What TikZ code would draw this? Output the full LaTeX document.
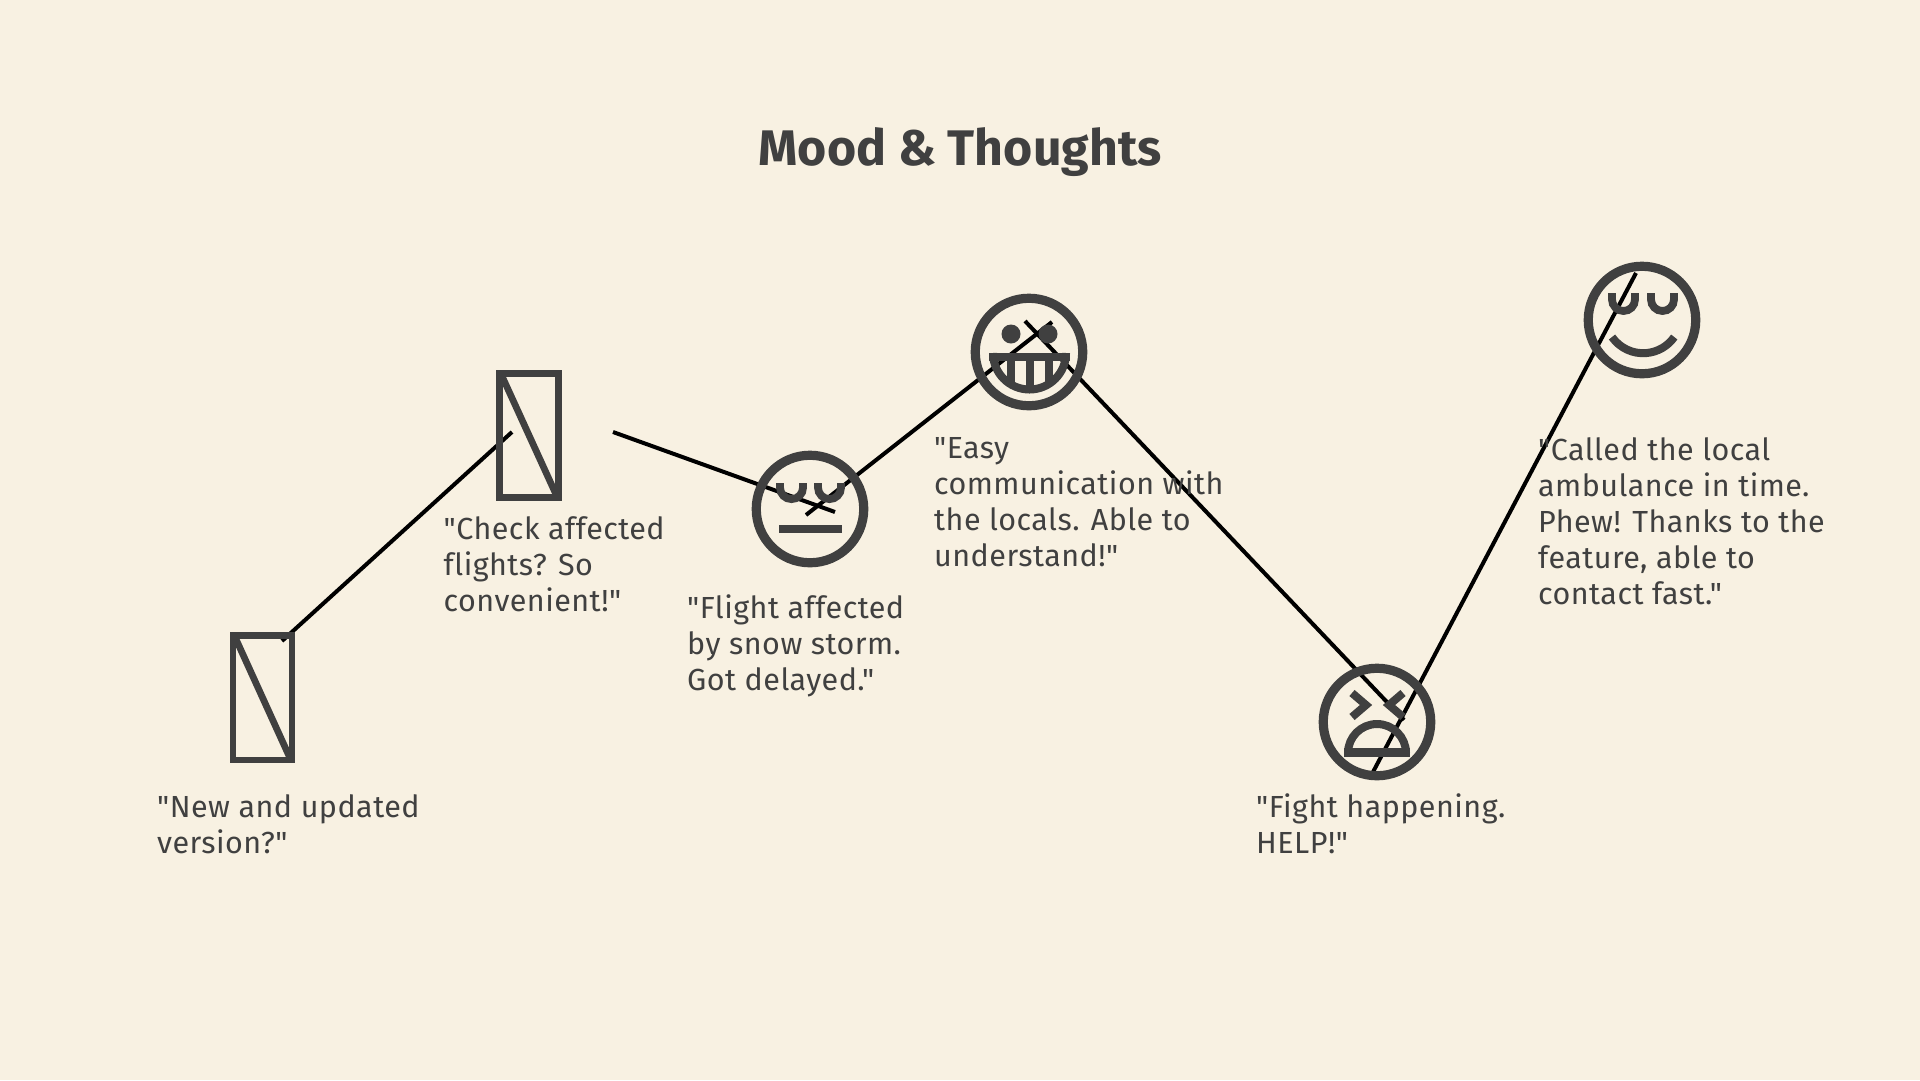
\documentclass[tikz,border=0pt]{standalone}
\usepackage{fontspec}
\newfontfamily\qfont[Ligatures=NoCommon,LetterSpace=1.5]{Fira Sans}
\newfontfamily\tfont[Ligatures=NoCommon]{Fira Sans}
\definecolor{bgc}{HTML}{F8F1E2}
\definecolor{ink}{HTML}{404040}
\tikzset{x=1pt,y=-1pt,
 icon/.style={draw=ink,line width=8pt,fill=none},
 eyeline/.style={draw=ink,line width=7.8pt,fill=none},
 boxline/.style={draw=ink,line width=6.7pt,fill=none},
 ringface/.style={draw=ink,line width=9.2pt,circle,minimum size=107.5pt,inner sep=0pt,fill=none},
 bar/.style={fill=ink,draw=none},
 link/.style={draw=black,line width=4pt},
 quote/.style={anchor=north west,align=left,inner sep=0pt,text=ink,font=\qfont\fontsize{30.5}{36}\selectfont},
 titletext/.style={text=ink,font=\tfont\fontsize{50}{54}\selectfont\bfseries,inner sep=0pt}
}
\begin{document}
\begin{tikzpicture}
\useasboundingbox[fill=bgc] (0,0) rectangle (1920,1080);
\coordinate (a1) at (282,641); \coordinate (a2) at (512,432);
\coordinate (b1) at (613,432); \coordinate (b2) at (835,512);
\coordinate (c1) at (806,515); \coordinate (c2) at (1052,322);
\coordinate (d1) at (1025,321); \coordinate (d2) at (1404,720);
\coordinate (e1) at (1373,772); \coordinate (e2) at (1636,273);
\draw[link] (a1)--(a2);
\draw[link] (b1)--(b2);
\draw[link] (c1)--(c2);
\draw[link] (d1)--(d2);
\draw[link] (e1)--(e2);
% placeholders
\draw[boxline] (233,635.5) rectangle (292,760);
\draw[boxline] (235,637) -- (290,758);
\draw[boxline] (499.5,373.5) rectangle (558.5,497.5);
\draw[boxline] (501.5,375) -- (556.5,495.5);
% face A
\node[ringface] (faceA) at (810,509) {};
\draw[eyeline] (780,483) -- ++(0,4.6) arc[start angle=180,end angle=0,radius=11.5] -- ++(0,-4.6);
\draw[eyeline] (818,483) -- ++(0,4.6) arc[start angle=180,end angle=0,radius=11.5] -- ++(0,-4.6);
\fill[bar] (779,525) rectangle (842,533);
% face B
\node[ringface] (faceB) at (1029,352) {};
\fill[bar] (1011,334) circle[radius=9.5];
\fill[bar] (1048,334) circle[radius=9.5];
\fill[bar] (989,353) rectangle (1070,361);
\draw[icon] (993,353) arc[start angle=180,end angle=0,radius=36.5];
\fill[bar] (1006.7,358) rectangle (1014.7,385);
\fill[bar] (1025.5,358) rectangle (1033.5,390);
\fill[bar] (1045,358) rectangle (1053,385);
% face C
\node[ringface] (faceC) at (1377,722) {};
\draw[icon,miter limit=10] (1352,693) -- (1366,705) -- (1352,717);
\draw[icon,miter limit=10] (1403,693) -- (1389,705) -- (1403,717);
\fill[bar] (1344,748) rectangle (1410,757);
\draw[icon] (1348,753) arc[start angle=180,end angle=0,x radius=29,y radius=-29];
% face D
\node[ringface] (faceD) at (1642,320) {};
\draw[eyeline] (1612,293) -- ++(0,6.5) arc[start angle=180,end angle=0,radius=11.5] -- ++(0,-6.5);
\draw[eyeline] (1651,293) -- ++(0,6.5) arc[start angle=180,end angle=0,radius=11.5] -- ++(0,-6.5);
\draw[icon] (1612,337) arc[start angle=215,end angle=325,x radius=38,y radius=-38];
% text
\node[titletext] (title) at (960,152) {Mood \& Thoughts};
\node[quote] (q1) at (157,794.5) {"New and updated\\version?"};
\node[quote] (q2) at (443.5,516.5) {"Check affected\\flights? So\\convenient!"};
\node[quote] (q3) at (687,594.5) {"Flight affected\\by snow storm.\\Got delayed."};
\node[quote] (q4) at (934,437.5) {"Easy\\communication with\\the locals. Able to\\understand!"};
\node[quote] (q5) at (1256,793.5) {"Fight happening.\\HELP!"};
\node[quote] (q6) at (1538,437.5) {"Called the local\\ambulance in time.\\Phew! Thanks to the\\feature, able to\\contact fast."};
\end{tikzpicture}
\end{document}
